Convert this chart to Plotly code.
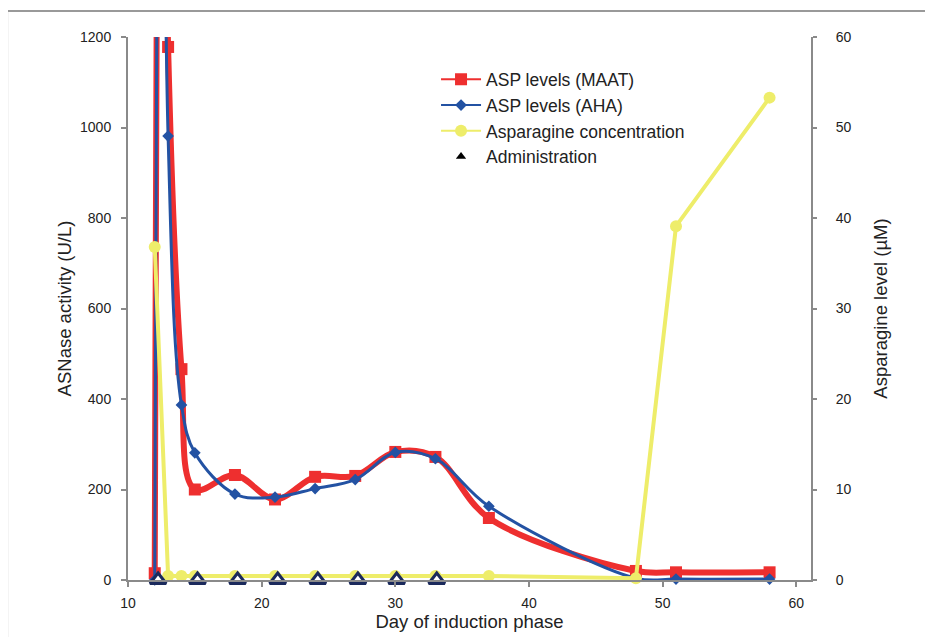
import plotly.graph_objects as go

# Red: ASP levels (MAAT)
maat_day = [12, 12.5, 13, 14, 15, 18, 21, 24, 27, 30, 33, 37, 48, 51, 58]
maat_val = [15, 2800, 1178, 466, 200, 232, 178, 228, 230, 283, 272, 137, 20, 17, 17]
maat_marker_day = [12, 13, 14, 15, 18, 21, 24, 27, 30, 33, 37, 48, 51, 58]
maat_marker_val = [15, 1178, 466, 200, 232, 178, 228, 230, 283, 272, 137, 20, 17, 17]

# Blue: ASP levels (AHA)
aha_day = [12, 12.5, 13, 14, 15, 18, 21, 24, 27, 30, 33, 37, 48, 51, 58]
aha_val = [0, 2700, 981, 387, 281, 190, 183, 202, 222, 282, 268, 163, 4, 2, 2]
aha_marker_day = [12, 13, 14, 15, 18, 21, 24, 27, 30, 33, 37, 48, 51, 58]
aha_marker_val = [0, 981, 387, 281, 190, 183, 202, 222, 282, 268, 163, 4, 2, 2]

# Yellow: Asparagine concentration (right axis, µM)
asn_day = [12, 13, 14, 15, 18, 21, 24, 27, 30, 33, 37, 48, 51, 58]
asn_val = [36.8, 0.45, 0.45, 0.45, 0.45, 0.45, 0.45, 0.45, 0.45, 0.45, 0.45, 0.2, 39.1, 53.3]

# Administration days
admin_day = [12.25, 15.2, 18.2, 21.2, 24.2, 27.2, 30.1, 33.1]
admin_val = [0, 0, 0, 0, 0, 0, 0, 0]

x_ticks = [10, 20, 30, 40, 50, 60]
y_left_ticks = [0, 200, 400, 600, 800, 1000, 1200]
y_right_ticks = [0, 10, 20, 30, 40, 50, 60]

RED = "#ee2f2f"
BLUE = "#2352a3"
YELLOW = "#eeed6a"
NAVY = "#1b2a5c"

fig = go.Figure()

# Red line
fig.add_trace(go.Scatter(
    x=maat_day, y=maat_val, mode="lines",
    line=dict(color=RED, width=6, shape="spline", smoothing=1),
    showlegend=False, hoverinfo="skip"))
fig.add_trace(go.Scatter(
    x=maat_marker_day, y=maat_marker_val, mode="markers",
    marker=dict(color=RED, size=12, symbol="square"),
    showlegend=False, cliponaxis=False))

# Blue line
fig.add_trace(go.Scatter(
    x=aha_day, y=aha_val, mode="lines",
    line=dict(color=BLUE, width=3, shape="spline", smoothing=1),
    showlegend=False, hoverinfo="skip"))
fig.add_trace(go.Scatter(
    x=aha_marker_day, y=aha_marker_val, mode="markers",
    marker=dict(color=BLUE, size=9, symbol="diamond"),
    showlegend=False, cliponaxis=False))

# Yellow (right axis)
fig.add_trace(go.Scatter(
    x=asn_day, y=asn_val, yaxis="y2", mode="lines+markers",
    line=dict(color=YELLOW, width=4),
    marker=dict(color=YELLOW, size=12, symbol="circle"),
    showlegend=False, cliponaxis=False))

# Administration triangles (on top)
fig.add_trace(go.Scatter(
    x=admin_day, y=admin_val, yaxis="y2", mode="markers",
    marker=dict(symbol="triangle-up", size=14, color="white", line=dict(width=3, color=NAVY)),
    showlegend=False, cliponaxis=False))

# Legend entries
fig.add_trace(go.Scatter(
    x=[None], y=[None], mode="lines+markers",
    line=dict(color=RED, width=2), marker=dict(color=RED, size=12, symbol="square"),
    name="ASP levels (MAAT)", legendgroup="a"))
fig.add_trace(go.Scatter(
    x=[None], y=[None], mode="lines+markers",
    line=dict(color=BLUE, width=2), marker=dict(color=BLUE, size=9, symbol="diamond"),
    name="ASP levels (AHA)", legendgroup="b"))
fig.add_trace(go.Scatter(
    x=[None], y=[None], mode="lines+markers",
    line=dict(color=YELLOW, width=2), marker=dict(color=YELLOW, size=12, symbol="circle"),
    name="Asparagine concentration", legendgroup="c"))
fig.add_trace(go.Scatter(
    x=[None], y=[None], mode="markers",
    marker=dict(color="black", size=9, symbol="triangle-up", line=dict(width=0)),
    name="Administration", legendgroup="d"))

AXIS_COL = "#8a8a8a"
FONT = "Liberation Sans, Arial, sans-serif"
TXT = "#222222"

fig.update_layout(
    width=933, height=637,
    margin=dict(l=120, r=130, t=29, b=65),
    paper_bgcolor="white", plot_bgcolor="white",
    font=dict(family=FONT, color=TXT),
    showlegend=True,
    legend=dict(x=0.451, y=0.955, xanchor="left", yanchor="top",
                font=dict(size=17.5, family=FONT, color=TXT),
                tracegroupgap=0, itemwidth=40, bgcolor="rgba(0,0,0,0)"),
    xaxis=dict(range=[10, 61.1], tickvals=x_ticks, showgrid=False, zeroline=False,
               showline=True, linecolor=AXIS_COL, linewidth=2,
               ticks="outside", ticklen=5, tickcolor=AXIS_COL, tickwidth=2,
               ticklabelstandoff=4,
               tickfont=dict(size=14, family=FONT, color=TXT),
               title=dict(text="Day of induction phase", font=dict(size=18.5, family=FONT, color=TXT), standoff=0)),
    yaxis=dict(range=[0, 1200], tickvals=y_left_ticks, showgrid=False, zeroline=False,
               showline=True, linecolor=AXIS_COL, linewidth=2,
               ticks="outside", ticklen=5, tickcolor=AXIS_COL, tickwidth=2,
               ticklabelstandoff=7,
               tickfont=dict(size=14, family=FONT, color=TXT),
               title=dict(text="ASNase activity (U/L)", font=dict(size=18.5, family=FONT, color=TXT), standoff=4)),
    yaxis2=dict(range=[0, 60], tickvals=y_right_ticks, overlaying="y", side="right",
                showgrid=False, zeroline=False,
                showline=True, linecolor=AXIS_COL, linewidth=2,
                ticks="outside", ticklen=4, tickcolor=AXIS_COL, tickwidth=2,
                ticklabelstandoff=16,
                tickfont=dict(size=14, family=FONT, color=TXT),
                title=dict(text="Asparagine level (µM)", font=dict(size=18.5, family=FONT, color=TXT), standoff=23)),
)

# Outer frame
fig.add_shape(type="rect", xref="paper", yref="paper",
              x0=-0.177, x1=1.3, y0=-0.25, y1=1.048,
              line=dict(color="#999999", width=2), fillcolor="rgba(0,0,0,0)", layer="below")

fig.write_html("out.html")
